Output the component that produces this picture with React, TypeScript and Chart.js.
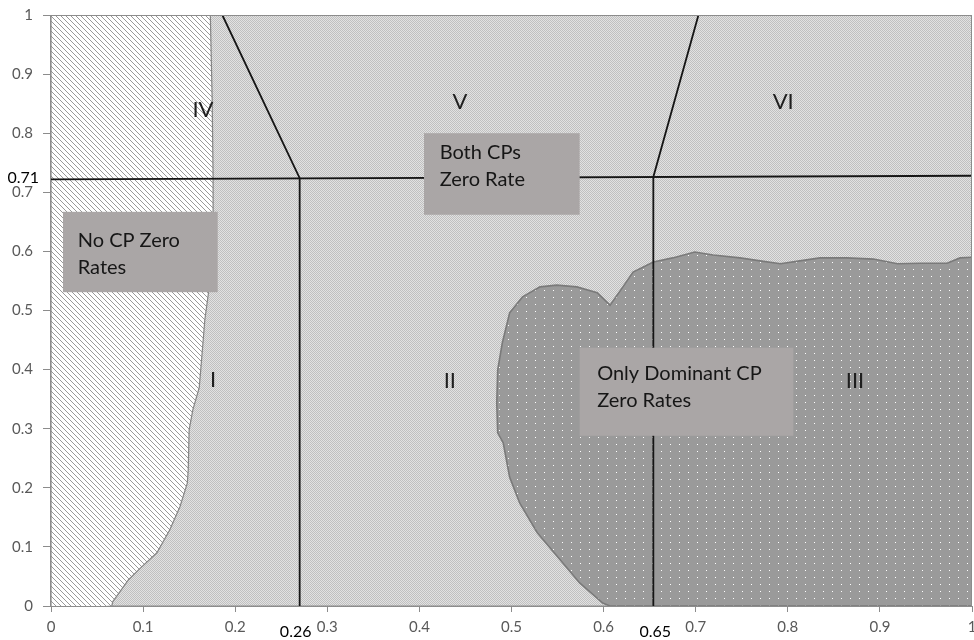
import React, { useEffect, useRef } from 'react';
import { Chart, registerables } from 'chart.js';

Chart.register(...registerables);

const FONT = 'Lato, "Open Sans", sans-serif';

// ---------- data ----------
const xTickValues = [0, 0.1, 0.2, 0.3, 0.4, 0.5, 0.6, 0.7, 0.8, 0.9, 1];
const yTickValues = [0, 0.1, 0.2, 0.3, 0.4, 0.5, 0.6, 0.7, 0.8, 0.9, 1];

// plot frame (light grey background region)
const frameRegion = [
  { x: 0, y: 0 }, { x: 1, y: 0 }, { x: 1, y: 1 }, { x: 0, y: 1 }, { x: 0, y: 0 },
];

// "No CP Zero Rates" hatched region (left)
const noCpRegion = [
  { x: 0.173, y: 1 }, { x: 0.175, y: 0.856 }, { x: 0.176, y: 0.726 }, { x: 0.176, y: 0.665 },
  { x: 0.171, y: 0.53 }, { x: 0.167, y: 0.484 }, { x: 0.165, y: 0.445 }, { x: 0.161, y: 0.37 },
  { x: 0.154, y: 0.332 }, { x: 0.15, y: 0.298 }, { x: 0.149, y: 0.23 }, { x: 0.148, y: 0.208 },
  { x: 0.14, y: 0.168 }, { x: 0.129, y: 0.129 }, { x: 0.115, y: 0.09 }, { x: 0.097, y: 0.064 },
  { x: 0.084, y: 0.044 }, { x: 0.067, y: 0.007 }, { x: 0.066, y: 0 }, { x: 0.053, y: -0.002 },
  { x: 0.035, y: -0.004 }, { x: 0, y: -0.008 }, { x: 0, y: 1 },
];

// "Only Dominant CP Zero Rates" dotted region
const dominantRegion = [
  { x: 1.0, y: 0.59 }, { x: 0.987, y: 0.589 }, { x: 0.973, y: 0.58 }, { x: 0.944, y: 0.58 },
  { x: 0.919, y: 0.579 }, { x: 0.893, y: 0.587 }, { x: 0.864, y: 0.589 }, { x: 0.835, y: 0.589 },
  { x: 0.813, y: 0.584 }, { x: 0.792, y: 0.579 }, { x: 0.77, y: 0.584 }, { x: 0.748, y: 0.589 },
  { x: 0.719, y: 0.594 }, { x: 0.699, y: 0.599 }, { x: 0.675, y: 0.589 }, { x: 0.654, y: 0.582 },
  { x: 0.632, y: 0.565 }, { x: 0.621, y: 0.54 }, { x: 0.607, y: 0.509 }, { x: 0.593, y: 0.53 },
  { x: 0.571, y: 0.54 }, { x: 0.549, y: 0.543 }, { x: 0.531, y: 0.54 }, { x: 0.512, y: 0.523 },
  { x: 0.498, y: 0.496 }, { x: 0.49, y: 0.445 }, { x: 0.485, y: 0.399 }, { x: 0.484, y: 0.343 },
  { x: 0.485, y: 0.293 }, { x: 0.491, y: 0.276 }, { x: 0.498, y: 0.218 }, { x: 0.509, y: 0.174 },
  { x: 0.528, y: 0.124 }, { x: 0.553, y: 0.078 }, { x: 0.574, y: 0.039 }, { x: 0.599, y: 0.005 },
  { x: 0.607, y: 0 }, { x: 1, y: 0 },
];

// boundary lines
const leftCutoff = [{ x: 0.27, y: 0 }, { x: 0.27, y: 0.724 }, { x: 0.186, y: 1 }];
const rightCutoff = [{ x: 0.654, y: 0 }, { x: 0.654, y: 0.726 }, { x: 0.703, y: 1 }];
const bothZeroLine = [{ x: 0, y: 0.722 }, { x: 1, y: 0.728 }];

// extra threshold labels
const xMarkLabels = ['0.26', '0.65'];
const xMarkValues = [0.27, 0.654];
const yMarkLabels = ['0.71'];
const yMarkValues = [0.722];

// region numerals
const regionNames = ['IV', 'V', 'VI', 'I', 'II', 'III'];
const regionX = [0.165, 0.444, 0.795, 0.176, 0.433, 0.873];
const regionY = [0.839, 0.853, 0.853, 0.382, 0.381, 0.381];

// text boxes
const boxTexts = [
  ['No CP Zero', 'Rates'],
  ['Both CPs', 'Zero Rate'],
  ['Only Dominant CP', 'Zero Rates'],
];
const boxX0 = [0.013, 0.405, 0.574];
const boxX1 = [0.181, 0.574, 0.806];
const boxY0 = [0.667, 0.8, 0.437];
const boxY1 = [0.531, 0.662, 0.288];
const boxTextX = [0.029, 0.422, 0.593];
const boxTextY = [0.619, 0.768, 0.394];

// ---------- patterns ----------
function makePattern(w: number, h: number, draw: (g: CanvasRenderingContext2D) => void) {
  const c = document.createElement('canvas');
  c.width = w;
  c.height = h;
  const g = c.getContext('2d') as CanvasRenderingContext2D;
  draw(g);
  return g.createPattern(c, 'repeat') as CanvasPattern;
}

const overlayPlugin = {
  id: 'overlay',
  afterDatasetsDraw(chart: any) {
    const { ctx, chartArea: a, scales } = chart;
    const sx = scales.x;
    const sy = scales.y;
    ctx.save();
    // frame
    ctx.strokeStyle = '#8c8c8c';
    ctx.lineWidth = 1;
    ctx.strokeRect(Math.round(a.left) - 0.5, Math.round(a.top) + 0.5, a.right - a.left, a.bottom - a.top);

    // text boxes
    for (let i = 0; i < boxTexts.length; i++) {
      const x0 = sx.getPixelForValue(boxX0[i]);
      const x1 = sx.getPixelForValue(boxX1[i]);
      const y0 = sy.getPixelForValue(boxY0[i]);
      const y1 = sy.getPixelForValue(boxY1[i]);
      ctx.fillStyle = '#aaa6a6';
      ctx.fillRect(x0, y0, x1 - x0, y1 - y0);
      ctx.fillStyle = '#161616';
      ctx.font = `20px ${FONT}`;
      ctx.textAlign = 'left';
      ctx.textBaseline = 'middle';
      const tx = sx.getPixelForValue(boxTextX[i]);
      const ty = sy.getPixelForValue(boxTextY[i]);
      boxTexts[i].forEach((line, k) => ctx.fillText(line, tx, ty + k * 27));
    }

    // region numerals
    ctx.fillStyle = '#1e1e1e';
    ctx.font = `22px ${FONT}`;
    ctx.textAlign = 'center';
    ctx.textBaseline = 'middle';
    regionNames.forEach((n, i) => {
      ctx.fillText(n, sx.getPixelForValue(regionX[i]), sy.getPixelForValue(regionY[i]));
    });
    ctx.restore();
  },
  afterDraw(chart: any) {
    const { ctx, chartArea: a, scales } = chart;
    const sx = scales.x;
    const sy = scales.y;
    ctx.save();
    ctx.fillStyle = '#000000';
    ctx.font = `16px ${FONT}`;
    ctx.textBaseline = 'middle';
    ctx.textAlign = 'center';
    xMarkLabels.forEach((t, i) => {
      ctx.fillText(t, sx.getPixelForValue(xMarkValues[i]) - 4 + i * 6, a.bottom + 26);
    });
    ctx.textAlign = 'right';
    yMarkLabels.forEach((t, i) => {
      ctx.fillText(t, a.left - 12, sy.getPixelForValue(yMarkValues[i]) - 1);
    });
    ctx.restore();
  },
};

export default function App() {
  const ref = useRef<HTMLCanvasElement | null>(null);

  useEffect(() => {
    const canvas = ref.current;
    if (!canvas) return;

    const checker = makePattern(2, 2, (g) => {
      g.fillStyle = '#e2e2e2';
      g.fillRect(0, 0, 2, 2);
      g.fillStyle = '#c0c0c0';
      g.fillRect(0, 0, 1, 1);
      g.fillRect(1, 1, 1, 1);
    });
    const hatch = makePattern(5, 5, (g) => {
      g.fillStyle = '#ffffff';
      g.fillRect(0, 0, 5, 5);
      g.fillStyle = '#999999';
      for (let i = 0; i < 5; i++) g.fillRect(i, i, 1, 1);
    });
    const dots = makePattern(9, 7, (g) => {
      g.fillStyle = '#9a9a9a';
      g.fillRect(0, 0, 9, 7);
      g.fillStyle = '#ffffff';
      g.fillRect(4, 3, 1, 1);
    });

    const lineDs = (data: any[], color: string, width: number) => ({
      data,
      showLine: true,
      fill: false,
      borderColor: color,
      borderWidth: width,
      pointRadius: 0,
      pointHoverRadius: 0,
    });
    const shapeDs = (data: any[], bg: any, border: string, width: number) => ({
      data,
      showLine: true,
      fill: 'shape',
      backgroundColor: bg,
      borderColor: border,
      borderWidth: width,
      pointRadius: 0,
      pointHoverRadius: 0,
    });

    const axisCommon = (vals: number[]) => ({
      type: 'linear',
      min: 0,
      max: 1,
      afterBuildTicks: (s: any) => {
        s.ticks = vals.map((v) => ({ value: v }));
      },
      ticks: {
        font: { family: FONT, size: 15 },
        color: '#595959',
        autoSkip: false,
        maxRotation: 0,
        callback: (v: any) => String(Math.round(Number(v) * 10) / 10),
      },
      grid: { drawOnChartArea: false, drawTicks: true, color: '#8c8c8c' },
      border: { display: true, color: '#8c8c8c' },
    });

    const xAxis: any = axisCommon(xTickValues);
    xAxis.ticks.padding = 6;
    xAxis.grid.tickLength = 6;
    xAxis.afterFit = (s: any) => {
      s.height = 34;
      s.paddingLeft = 0;
      s.paddingRight = 0;
    };
    const yAxis: any = axisCommon(yTickValues);
    yAxis.ticks.padding = 10;
    yAxis.grid.tickLength = 8;
    yAxis.afterFit = (s: any) => {
      s.width = 51;
      s.paddingTop = 0;
      s.paddingBottom = 0;
    };

    const chart = new Chart(canvas, {
      type: 'scatter',
      data: {
        datasets: [
          lineDs(leftCutoff, '#151515', 1.8),
          lineDs(rightCutoff, '#151515', 1.8),
          lineDs(bothZeroLine, '#151515', 1.8),
          shapeDs(dominantRegion, dots, '#7a7a7a', 1.6),
          shapeDs(noCpRegion, hatch, '#858585', 1.2),
          shapeDs(frameRegion, checker, '#8c8c8c', 1),
        ] as any,
      },
      options: {
        animation: false,
        responsive: false,
        maintainAspectRatio: false,
        devicePixelRatio: 1,
        layout: { padding: { top: 15, right: 2, left: 0, bottom: 0 } },
        plugins: { legend: { display: false }, tooltip: { enabled: false } },
        events: [],
        scales: { x: xAxis, y: yAxis },
      } as any,
      plugins: [overlayPlugin],
    });
    return () => chart.destroy();
  }, []);

  return (
    <div style={{ position: 'fixed', left: 0, top: 0, width: 974, height: 640, background: '#ffffff' }}>
      <canvas ref={ref} width={974} height={640} style={{ display: 'block' }} />
    </div>
  );
}
